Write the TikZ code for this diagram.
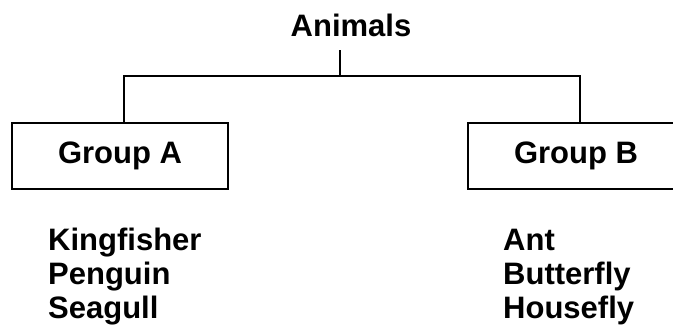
\documentclass[tikz,border=0pt]{standalone}
\usepackage{fontspec}
\setmainfont{Liberation Sans}
\usetikzlibrary{positioning, calc}
\tikzstyle{line} = [line width=1.3pt, black]
\tikzstyle{groupbox} = [rectangle, draw, line width=1.5pt, minimum width=216pt, minimum height=66pt, inner sep=0pt, font=\fontsize{31}{34}\selectfont\bfseries]
\tikzstyle{item} = [anchor=base west, inner sep=0pt, font=\fontsize{31}{34}\selectfont\bfseries]

\begin{document}
\begin{tikzpicture}[x=1pt, y=1pt]
        \useasboundingbox (0,0) rectangle (673,333);
        \node (animals) [anchor=base, inner sep=0pt, font=\fontsize{31}{34}\selectfont\bfseries] at (351,296) {Animals};
        \coordinate (stem) at (340,283);
        \coordinate (split) at (340,257);
        \node (groupA) [groupbox] at (120,177) {Group A};
        \node (groupB) [groupbox] at (576,177) {Group B};
        \node (kingfisher) [item] at (48,83) {Kingfisher};
        \node (penguin) [item] at (48,49) {Penguin};
        \node (seagull) [item] at (48,15) {Seagull};
        \node (ant) [item] at (503,83) {Ant};
        \node (butterfly) [item] at (503,49) {Butterfly};
        \node (housefly) [item] at (503,15) {Housefly};
        \draw [line] (stem) -- (split);
        \draw [line] ([xshift=4pt]groupA.north) |- (split) -| ([xshift=4pt]groupB.north);
    \end{tikzpicture}
\end{document}
